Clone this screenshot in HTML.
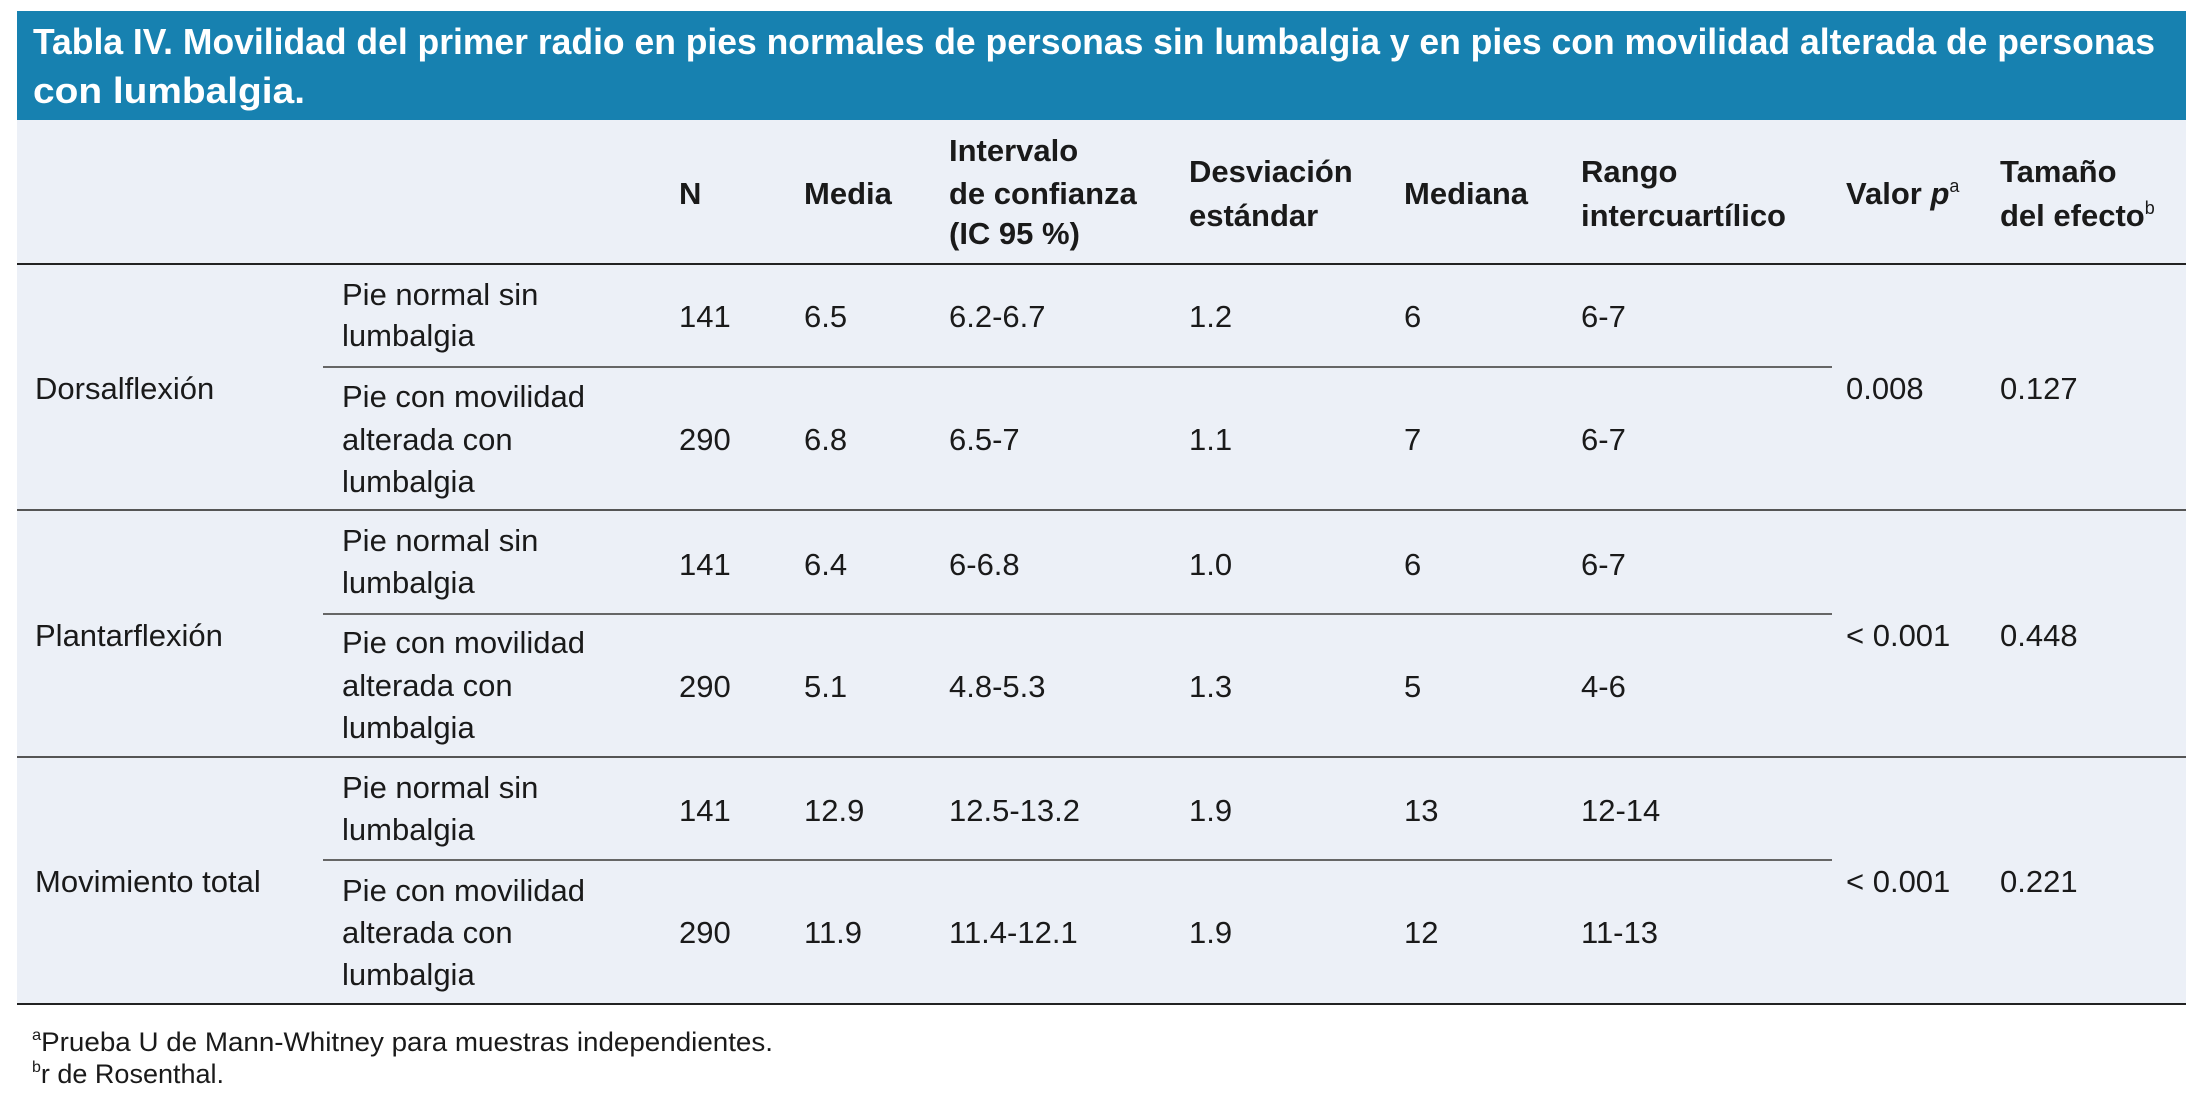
<!DOCTYPE html>
<html><head><meta charset="utf-8"><style>
html,body{margin:0;padding:0;background:#fff;}
svg{display:block;}
text{font-family:"Liberation Sans",sans-serif;fill:#1a1a1a;font-size:31px;}
.h{font-weight:bold;}
.t{font-weight:bold;fill:#fff;font-size:36px;}
.f{font-size:27px;}
</style></head><body>
<svg width="2204" height="1096" viewBox="0 0 2204 1096" xmlns="http://www.w3.org/2000/svg">
<rect x="17" y="11" width="2169" height="109" fill="#1781b0"/>
<rect x="17" y="120" width="2169" height="884" fill="#ecf0f7"/>
<text class="t" x="33" y="54" textLength="2122" lengthAdjust="spacingAndGlyphs">Tabla IV. Movilidad del primer radio en pies normales de personas sin lumbalgia y en pies con movilidad alterada de personas</text>
<text class="t" x="33" y="103" textLength="272" lengthAdjust="spacingAndGlyphs">con lumbalgia.</text>

<g class="h">
<text class="h" x="679" y="204">N</text>
<text class="h" x="804" y="204">Media</text>
<text class="h" x="949" y="161">Intervalo</text>
<text class="h" x="949" y="204">de confianza</text>
<text class="h" x="949" y="244">(IC 95 %)</text>
<text class="h" x="1189" y="182">Desviación</text>
<text class="h" x="1189" y="226">estándar</text>
<text class="h" x="1404" y="204">Mediana</text>
<text class="h" x="1581" y="182">Rango</text>
<text class="h" x="1581" y="226">intercuartílico</text>
<text class="h" x="1846" y="204">Valor <tspan font-style="italic">p</tspan><tspan font-size="18" dy="-12" font-weight="normal">a</tspan></text>
<text class="h" x="2000" y="182">Tamaño</text>
<text class="h" x="2000" y="226">del efecto<tspan font-size="18" dy="-12" font-weight="normal">b</tspan></text>
</g>

<g stroke-width="2">
<line x1="17" y1="264" x2="2186" y2="264" stroke="#222"/>
<line x1="323" y1="367" x2="1832" y2="367" stroke="#666"/>
<line x1="17" y1="510" x2="2186" y2="510" stroke="#555"/>
<line x1="323" y1="614" x2="1832" y2="614" stroke="#666"/>
<line x1="17" y1="757" x2="2186" y2="757" stroke="#555"/>
<line x1="323" y1="860" x2="1832" y2="860" stroke="#666"/>
<line x1="17" y1="1004" x2="2186" y2="1004" stroke="#222"/>
</g>

<text x="35" y="399">Dorsalflexión</text>
<text x="342" y="305">Pie normal sin</text>
<text x="342" y="346">lumbalgia</text>
<text x="679" y="327">141</text><text x="804" y="327">6.5</text><text x="949" y="327">6.2-6.7</text>
<text x="1189" y="327">1.2</text><text x="1404" y="327">6</text><text x="1581" y="327">6-7</text>
<text x="342" y="407">Pie con movilidad</text>
<text x="342" y="450">alterada con</text>
<text x="342" y="492">lumbalgia</text>
<text x="679" y="450">290</text><text x="804" y="450">6.8</text><text x="949" y="450">6.5-7</text>
<text x="1189" y="450">1.1</text><text x="1404" y="450">7</text><text x="1581" y="450">6-7</text>
<text x="1846" y="399">0.008</text><text x="2000" y="399">0.127</text>

<text x="35" y="646">Plantarflexión</text>
<text x="342" y="551">Pie normal sin</text>
<text x="342" y="593">lumbalgia</text>
<text x="679" y="575">141</text><text x="804" y="575">6.4</text><text x="949" y="575">6-6.8</text>
<text x="1189" y="575">1.0</text><text x="1404" y="575">6</text><text x="1581" y="575">6-7</text>
<text x="342" y="653">Pie con movilidad</text>
<text x="342" y="696">alterada con</text>
<text x="342" y="738">lumbalgia</text>
<text x="679" y="697">290</text><text x="804" y="697">5.1</text><text x="949" y="697">4.8-5.3</text>
<text x="1189" y="697">1.3</text><text x="1404" y="697">5</text><text x="1581" y="697">4-6</text>
<text x="1846" y="646">&lt; 0.001</text><text x="2000" y="646">0.448</text>

<text x="35" y="892">Movimiento total</text>
<text x="342" y="798">Pie normal sin</text>
<text x="342" y="840">lumbalgia</text>
<text x="679" y="821">141</text><text x="804" y="821">12.9</text><text x="949" y="821">12.5-13.2</text>
<text x="1189" y="821">1.9</text><text x="1404" y="821">13</text><text x="1581" y="821">12-14</text>
<text x="342" y="901">Pie con movilidad</text>
<text x="342" y="943">alterada con</text>
<text x="342" y="985">lumbalgia</text>
<text x="679" y="943">290</text><text x="804" y="943">11.9</text><text x="949" y="943">11.4-12.1</text>
<text x="1189" y="943">1.9</text><text x="1404" y="943">12</text><text x="1581" y="943">11-13</text>
<text x="1846" y="892">&lt; 0.001</text><text x="2000" y="892">0.221</text>

<text class="f" x="32" y="1051" textLength="741" lengthAdjust="spacingAndGlyphs"><tspan font-size="16" dy="-11">a</tspan><tspan dy="11">Prueba U de Mann-Whitney para muestras independientes.</tspan></text>
<text class="f" x="32" y="1083"><tspan font-size="16" dy="-11">b</tspan><tspan dy="11">r de Rosenthal.</tspan></text>
</svg>
</body></html>
